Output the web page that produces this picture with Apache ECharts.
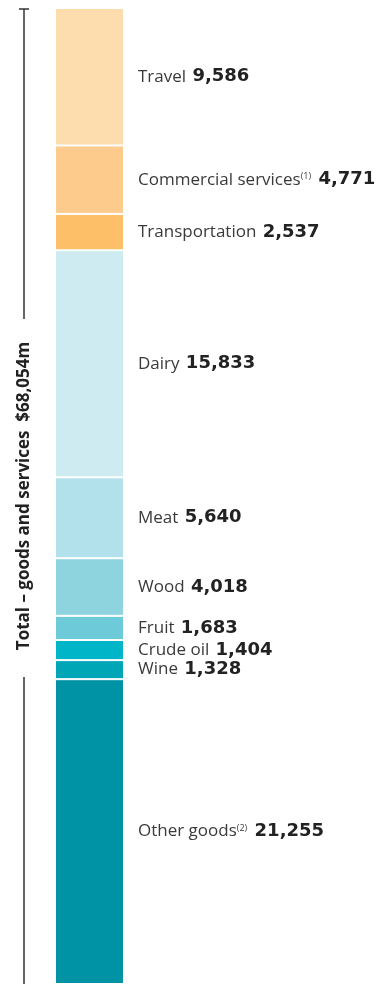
<!DOCTYPE html>
<html>
<head>
<meta charset="utf-8">
<script src="https://cdn.jsdelivr.net/npm/echarts@6/dist/echarts.min.js"></script>
<style>
html,body{margin:0;padding:0;background:#fff;}
#c{width:388px;height:984px;}
</style>
</head>
<body>
<div id="c"></div>
<script>
const categories = ['Travel','Commercial services','Transportation','Dairy','Meat','Wood','Fruit','Crude oil','Wine','Other goods'];
const values = [9586, 4771, 2537, 15833, 5640, 4018, 1683, 1404, 1328, 21255];
const notes = ['', '(1)', '', '', '', '', '', '', '', '(2)'];
const colors = ['#FDDCAE','#FDCB8C','#FDBF68','#CDEBF0','#B3E1EB','#8DD4DF','#6DCAD9','#00B5C7','#00A5B6','#0093A5'];
const totalLabel = 'Total – goods and services  $68,054m';
const total = values.reduce((a,b)=>a+b,0);

const fmt = n => n.toLocaleString('en-US');
const FONT = '"Open Sans", "Noto Sans", sans-serif';
const VFONT = '"DejaVu Sans", Verdana, sans-serif';

const series = categories.map((name, i) => ({
  name: name,
  type: 'bar',
  stack: 'all',
  barWidth: '100%',
  data: [values[i]],
  itemStyle: { color: colors[i], borderColor: '#fff', borderWidth: 1 },
  label: {
    show: true,
    position: 'right',
    distance: 14,
    formatter: () => '{n|' + name + '}' + (notes[i] ? '{s|' + notes[i] + '}' : '') + ' {v|' + fmt(values[i]) + '}',
    rich: {
      n: { fontFamily: FONT, fontSize: 17, color: '#3a3a3a', lineHeight: 22 },
      s: { fontFamily: FONT, fontSize: 9, color: '#3a3a3a', verticalAlign: 'top', lineHeight: 22, padding: [3, 1, 0, 0] },
      v: { fontFamily: VFONT, fontSize: 18, fontWeight: 'bold', color: '#222', lineHeight: 22, padding: [0, 0, 0, 3] }
    }
  },
  emphasis: { disabled: true }
}));

const chart = echarts.init(document.getElementById('c'), null, { renderer: 'canvas' });
chart.setOption({
  animation: false,
  grid: { left: 55, right: 264, top: 8, bottom: 0 },
  xAxis: { type: 'category', data: ['Total'], show: false },
  yAxis: {
    type: 'value', min: 0, max: total, inverse: true,
    position: 'left', offset: 31,
    axisLine: { show: false },
    axisTick: { show: false }, axisLabel: { show: false }, splitLine: { show: false },
    name: totalLabel, nameLocation: 'middle', nameRotate: 90, nameGap: 0,
    nameTextStyle: {
      fontFamily: FONT, fontSize: 17, fontWeight: 'bold', color: '#222',
      align: 'center', verticalAlign: 'middle'
    }
  },
  graphic: [
    { type: 'line', shape: { x1: 19, y1: 9, x2: 29, y2: 9 }, style: { stroke: '#333', lineWidth: 1.5 } },
    { type: 'line', shape: { x1: 24, y1: 9, x2: 24, y2: 319 }, style: { stroke: '#333', lineWidth: 1.5 } },
    { type: 'line', shape: { x1: 24, y1: 677, x2: 24, y2: 984 }, style: { stroke: '#333', lineWidth: 1.5 } }
  ],
  series: series
});
</script>
</body>
</html>
